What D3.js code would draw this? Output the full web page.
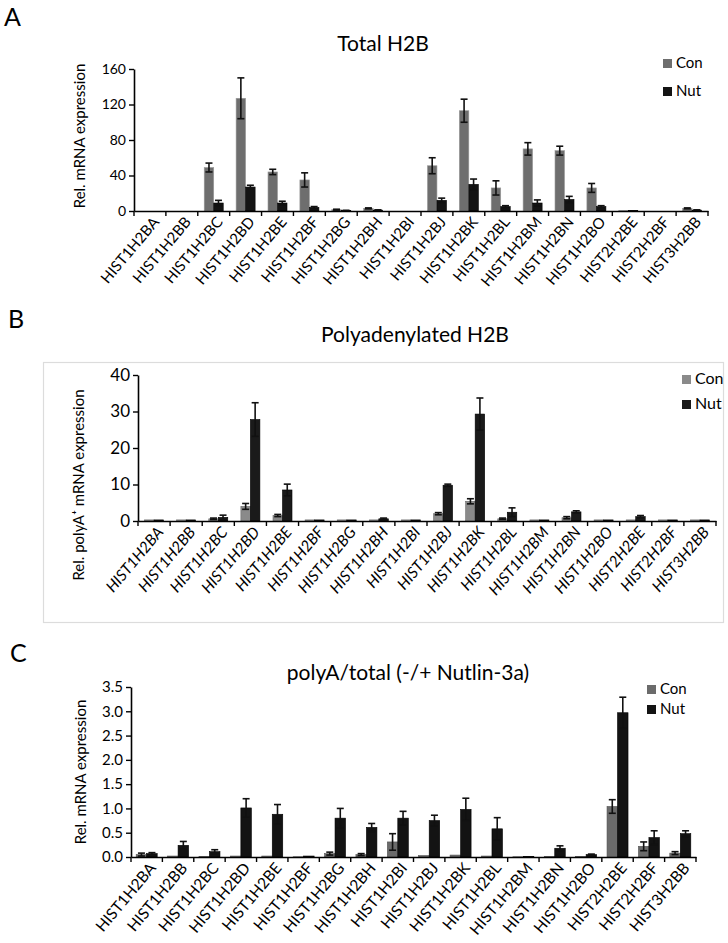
<!DOCTYPE html>
<html>
<head>
<meta charset="utf-8">
<script src="https://cdn.jsdelivr.net/npm/d3@7"></script>
<style>
html,body{margin:0;padding:0;background:#fff;}
svg{display:block;font-family:Lato,"Open Sans",sans-serif;}
</style>
</head>
<body>
<svg id="chart" width="728" height="943"></svg>
<script>
const categories = ["HIST1H2BA","HIST1H2BB","HIST1H2BC","HIST1H2BD","HIST1H2BE","HIST1H2BF","HIST1H2BG","HIST1H2BH","HIST1H2BI","HIST1H2BJ","HIST1H2BK","HIST1H2BL","HIST1H2BM","HIST1H2BN","HIST1H2BO","HIST2H2BE","HIST2H2BF","HIST3H2BB"];
const seriesNames = ["Con","Nut"];

// Panel A: Total H2B
const totalCon    = [0, 0, 49, 127, 44, 35, 1.5, 3, 0, 51, 113, 26, 70, 68, 26, 0.5, 0, 3];
const totalConErr = [0, 0, 5, 23, 3, 8, 0.5, 0.5, 0, 9, 13, 8, 7, 5, 5, 0, 0, 0.5];
const totalNut    = [0, 0, 9, 27, 9, 4, 0.5, 1, 0, 12, 30, 5, 9, 13, 5, 0.5, 0, 1];
const totalNutErr = [0, 0, 3, 2, 2, 1, 0.3, 0.3, 0, 2.5, 6, 1, 3.5, 3.5, 1, 0, 0, 0.3];
const totalTicks  = [0, 40, 80, 120, 160];

// Panel B: Polyadenylated H2B
const polyCon    = [0.3, 0.3, 0.6, 4.0, 1.5, 0.3, 0.3, 0.3, 0.3, 2.0, 5.4, 0.6, 0.3, 0.9, 0.3, 0.3, 0.3, 0.3];
const polyConErr = [0, 0, 0.2, 0.8, 0.3, 0, 0, 0, 0, 0.3, 0.7, 0.2, 0, 0.3, 0, 0, 0, 0];
const polyNut    = [0.3, 0.3, 1.0, 27.8, 8.5, 0.3, 0.3, 0.6, 0.3, 9.8, 29.3, 2.4, 0.3, 2.5, 0.3, 1.2, 0.3, 0.3];
const polyNutErr = [0, 0, 0.6, 4.6, 1.6, 0, 0, 0.2, 0, 0.3, 4.4, 1.2, 0, 0.3, 0, 0.3, 0, 0];
const polyTicks  = [0, 10, 20, 30, 40];

// Panel C: polyA/total
const ratioCon    = [0.05, 0.02, 0.01, 0.02, 0.02, 0.005, 0.07, 0.05, 0.31, 0.03, 0.04, 0.02, 0.005, 0.01, 0.01, 1.04, 0.22, 0.08];
const ratioConErr = [0.03, 0, 0, 0, 0, 0, 0.03, 0.02, 0.17, 0, 0, 0, 0, 0, 0, 0.14, 0.09, 0.03];
const ratioNut    = [0.07, 0.24, 0.11, 1.01, 0.88, 0.02, 0.80, 0.61, 0.80, 0.75, 0.98, 0.58, 0.01, 0.18, 0.05, 2.97, 0.40, 0.48];
const ratioNutErr = [0.02, 0.08, 0.04, 0.19, 0.20, 0, 0.20, 0.08, 0.14, 0.11, 0.23, 0.23, 0, 0.05, 0.01, 0.32, 0.14, 0.06];
const ratioTicks  = [0, 0.5, 1.0, 1.5, 2.0, 2.5, 3.0, 3.5];

const svg = d3.select("#chart");

function panel(cfg) {
  const g = svg.append("g");
  const x = d3.scaleBand().domain(categories).range(cfg.xRange).padding(0);
  const bw = x.bandwidth();
  const xs = d3.scaleBand().domain(seriesNames).range([(bw - cfg.groupW) / 2, (bw + cfg.groupW) / 2]).padding(0);
  const y = d3.scaleLinear().domain([0, cfg.yMax]).range(cfg.yRange);
  const vals = {Con: cfg.con, Nut: cfg.nut};
  const errs = {Con: cfg.conErr, Nut: cfg.nutErr};

  seriesNames.forEach(s => {
    g.append("g").selectAll("rect").data(categories).join("rect")
      .attr("x", (c) => x(c) + xs(s))
      .attr("width", xs.bandwidth())
      .attr("y", (c, i) => y(vals[s][i]))
      .attr("height", (c, i) => y(0) - y(vals[s][i]))
      .attr("fill", cfg.colors[s])
      .attr("stroke", cfg.strokes[s])
      .attr("stroke-width", 0.6);
  });
  seriesNames.forEach(s => {
    const eg = g.append("g").attr("stroke", "#111").attr("stroke-width", 1.6);
    categories.forEach((c, i) => {
      const e = errs[s][i];
      if (!e) return;
      const cx = x(c) + xs(s) + xs.bandwidth() / 2;
      const lo = Math.max(0, vals[s][i] - e), hi = vals[s][i] + e;
      eg.append("line").attr("x1", cx).attr("x2", cx).attr("y1", y(lo)).attr("y2", y(hi));
      eg.append("line").attr("x1", cx - 3.5).attr("x2", cx + 3.5).attr("y1", y(hi)).attr("y2", y(hi));
      eg.append("line").attr("x1", cx - 3.5).attr("x2", cx + 3.5).attr("y1", y(lo)).attr("y2", y(lo));
    });
  });

  const ya = g.append("g").attr("transform", `translate(${cfg.xRange[0]},0)`)
    .call(d3.axisLeft(y).tickValues(cfg.ticks).tickSize(5).tickSizeOuter(0).tickFormat(cfg.fmt));
  ya.select(".domain").attr("stroke", "#000").attr("stroke-width", 1.6);
  ya.selectAll(".tick line").attr("stroke", "#000").attr("stroke-width", 1.4);
  ya.selectAll(".tick text").attr("font-size", cfg.tickFont).attr("fill", "#000")
    .attr("font-family", "Lato,'Open Sans',sans-serif").attr("x", -8);

  const xa = g.append("g").attr("transform", `translate(0,${y(0)})`)
    .call(d3.axisBottom(x).tickSize(0).tickSizeOuter(0));
  xa.select(".domain").attr("stroke", "#000").attr("stroke-width", 1.6);
  xa.selectAll(".tick text")
    .attr("font-size", cfg.xFont).attr("fill", "#000")
    .attr("font-family", "Lato,'Open Sans',sans-serif")
    .attr("font-style", cfg.italic ? "italic" : "normal")
    .attr("text-anchor", "end")
    .attr("dy", "0.35em")
    .attr("transform", `translate(${cfg.labelDx},${cfg.labelDy}) rotate(${cfg.angle})`)
    .attr("x", 0).attr("y", 0);
  const bounds = categories.map(c => x(c)).concat([x.range()[1]]);
  xa.append("g").selectAll("line").data(bounds).join("line")
    .attr("x1", d => d).attr("x2", d => d).attr("y1", 0).attr("y2", 5)
    .attr("stroke", "#000").attr("stroke-width", 1.4);

  g.append("text")
    .attr("transform", `translate(${cfg.yLabelX},${cfg.yLabelY}) rotate(-90)`)
    .attr("text-anchor", "middle").attr("font-size", cfg.yLabelFont).attr("fill", "#000")
    .text(cfg.yLabel);

  g.append("text").attr("x", cfg.titleX).attr("y", cfg.titleY)
    .attr("text-anchor", "middle").attr("font-size", 21).attr("fill", "#000").text(cfg.title);

  g.append("text").attr("x", cfg.letterX).attr("y", cfg.letterY)
    .attr("font-size", 25).attr("fill", "#000").text(cfg.letter);

  seriesNames.forEach((s, i) => {
    const ly = cfg.legendY + i * cfg.legendGap;
    g.append("rect").attr("x", cfg.legendX).attr("y", ly - 9).attr("width", 9).attr("height", 9)
      .attr("fill", cfg.colors[s]);
    g.append("text").attr("x", cfg.legendX + 13).attr("y", ly)
      .attr("font-size", cfg.legendFont).attr("fill", "#000").text(s);
  });
  return g;
}

svg.append("rect").attr("x", 43.5).attr("y", 362.5).attr("width", 680).attr("height", 260)
  .attr("fill", "none").attr("stroke", "#dcdcdc").attr("stroke-width", 1.2);

panel({
  letter: "A", letterX: 4, letterY: 26,
  title: "Total H2B", titleX: 383, titleY: 51,
  xRange: [134, 708], yRange: [211, 69], yMax: 160, ticks: totalTicks, fmt: d3.format("d"),
  con: totalCon, nut: totalNut, conErr: totalConErr, nutErr: totalNutErr,
  groupW: 19, colors: {Con: "#6e6e6e", Nut: "#141414"}, strokes: {Con: "#9a9a9a", Nut: "#000"},
  tickFont: 14, xFont: 15, italic: false, angle: -50, labelDx: 6, labelDy: 8,
  yLabel: "Rel. mRNA expression", yLabelX: 85, yLabelY: 136, yLabelFont: 15,
  legendX: 663, legendY: 68, legendGap: 28, legendFont: 15
});

panel({
  letter: "B", letterX: 8, letterY: 328,
  title: "Polyadenylated H2B", titleX: 415, titleY: 342,
  xRange: [138, 716], yRange: [521, 375], yMax: 40, ticks: polyTicks, fmt: d3.format("d"),
  con: polyCon, nut: polyNut, conErr: polyConErr, nutErr: polyNutErr,
  groupW: 19, colors: {Con: "#8a8a8a", Nut: "#1a1a1a"}, strokes: {Con: "#6a6a6a", Nut: "#000"},
  tickFont: 17, xFont: 15.5, italic: true, angle: -50, labelDx: 6, labelDy: 8,
  yLabel: "Rel. polyA\u207A mRNA expression", yLabelX: 84, yLabelY: 485, yLabelFont: 15,
  legendX: 682, legendY: 384, legendGap: 25, legendFont: 16
});

panel({
  letter: "C", letterX: 10, letterY: 662,
  title: "polyA/total (-/+ Nutlin-3a)", titleX: 408, titleY: 680,
  xRange: [131, 696], yRange: [857, 687], yMax: 3.5, ticks: ratioTicks, fmt: d3.format(".1f"),
  con: ratioCon, nut: ratioNut, conErr: ratioConErr, nutErr: ratioNutErr,
  groupW: 21, colors: {Con: "#6b6b6b", Nut: "#131313"}, strokes: {Con: "#555", Nut: "#000"},
  tickFont: 15, xFont: 15.5, italic: false, angle: -50, labelDx: 6, labelDy: 8,
  yLabel: "Rel. mRNA expression", yLabelX: 86, yLabelY: 772, yLabelFont: 15,
  legendX: 647, legendY: 694, legendGap: 20, legendFont: 15
});
</script>
</body>
</html>
